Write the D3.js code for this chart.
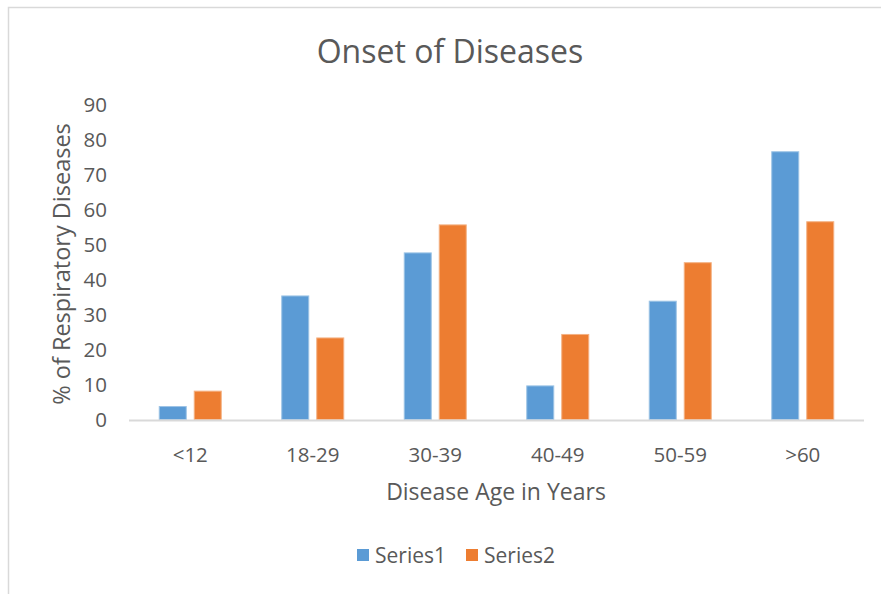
<!DOCTYPE html>
<html><head><meta charset="utf-8">
<script src="https://cdn.jsdelivr.net/npm/d3@7"></script>
<style>
html,body{margin:0;padding:0;background:#fff;}
svg{display:block;font-family:"Open Sans",Lato,sans-serif;}
</style></head>
<body><svg id="c" width="881" height="594"></svg>
<script>
const categories = ["<12","18-29","30-39","40-49","50-59",">60"];
const seriesNames = ["Series1","Series2"];
const series1 = [3.7, 35.3, 47.6, 9.6, 33.8, 76.5];
const series2 = [8.1, 23.3, 55.6, 24.3, 44.8, 56.5];
const yTicks = [0,10,20,30,40,50,60,70,80,90];
const colors = ["#5B9BD5","#ED7D31"];
const strokes = ["#9CC3E5","#F4B183"];

const svg = d3.select("#c");
const txt = "#595959";

// chart area border
svg.append("rect").attr("x",8.5).attr("y",7.5).attr("width",900).attr("height",600)
  .attr("fill","#fff").attr("stroke","#d9d9d9").attr("stroke-width",1.5);

const x0 = d3.scaleBand().domain(categories).range([129,864]).paddingInner(0).paddingOuter(0);
const groupW = 63;
const x1 = d3.scaleBand().domain(seriesNames).range([0,groupW]).paddingInner(0.2).paddingOuter(0);
const y = d3.scaleLinear().domain([0,90]).range([419.5,104.5]);

const data = categories.map((c,i)=>({cat:c, vals:[series1[i], series2[i]]}));

const g = svg.append("g");
const groups = g.selectAll("g.grp").data(data).join("g")
  .attr("transform", d=>`translate(${x0(d.cat)+(x0.bandwidth()-groupW)/2},0)`);
groups.selectAll("rect").data(d=>d.vals.map((v,j)=>({v, s:seriesNames[j], j}))).join("rect")
  .attr("x", d=>x1(d.s)+0.5)
  .attr("y", d=>y(d.v))
  .attr("width", x1.bandwidth()-1)
  .attr("height", d=>y(0)-y(d.v))
  .attr("fill", d=>colors[d.j])
  .attr("stroke", d=>strokes[d.j]).attr("stroke-width",1);

// baseline
svg.append("line").attr("x1",129).attr("x2",864).attr("y1",y(0)+1).attr("y2",y(0)+1)
  .attr("stroke","#d9d9d9").attr("stroke-width",2);

// y axis labels
const yAxis = d3.axisLeft(y).tickValues(yTicks).tickSize(0).tickPadding(0);
const ya = svg.append("g").attr("transform","translate(107,0)").call(yAxis);
ya.select(".domain").remove();
ya.selectAll("text").attr("fill",txt).attr("font-size",20.5).attr("font-family","'Open Sans',sans-serif");

// x axis labels
const xAxis = d3.axisBottom(x0).tickSize(0).tickPadding(0);
const xa = svg.append("g").attr("transform","translate(0,462)").call(xAxis);
xa.select(".domain").remove();
xa.selectAll("text").attr("fill",txt).attr("font-size",20.5).attr("dy","0").attr("font-family","'Open Sans',sans-serif");

// title
svg.append("text").attr("x",450).attr("y",63).attr("text-anchor","middle")
  .attr("fill",txt).attr("font-size",32).text("Onset of Diseases");

// axis titles
svg.append("text").attr("x",496).attr("y",500).attr("text-anchor","middle")
  .attr("fill",txt).attr("font-size",23).text("Disease Age in Years");
svg.append("text").attr("transform","translate(70,264) rotate(-90)").attr("text-anchor","middle")
  .attr("fill",txt).attr("font-size",23.5).text("% of Respiratory Diseases");

// legend
const leg = svg.append("g");
const legX = [357, 466];
seriesNames.forEach((s,i)=>{
  leg.append("rect").attr("x",legX[i]).attr("y",549).attr("width",12).attr("height",12).attr("fill",colors[i]);
  leg.append("text").attr("x",legX[i]+18).attr("y",563).attr("fill",txt).attr("font-size",21).text(s);
});
</script></body></html>
